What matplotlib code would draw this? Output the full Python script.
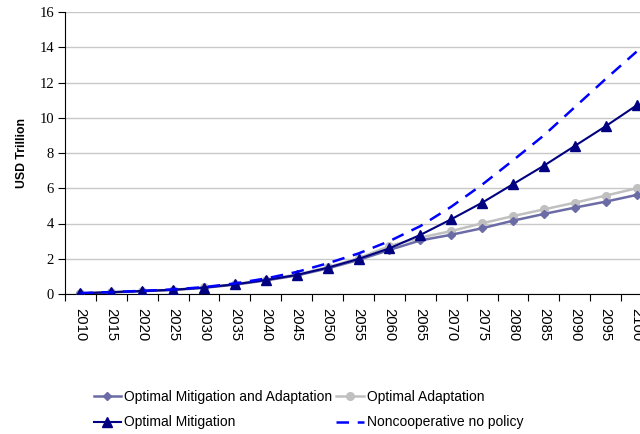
import matplotlib
matplotlib.use("Agg")
import matplotlib.pyplot as plt

years = [str(y) for y in range(2010, 2101, 5)]

opt_mit_adapt = [0.04, 0.10, 0.16, 0.23, 0.35, 0.53, 0.77, 1.05, 1.45, 1.93, 2.50, 3.04, 3.36, 3.73, 4.16, 4.54, 4.90, 5.24, 5.62]
opt_adapt     = [0.04, 0.10, 0.17, 0.24, 0.37, 0.56, 0.81, 1.10, 1.52, 2.03, 2.72, 3.20, 3.57, 4.01, 4.42, 4.80, 5.18, 5.58, 6.00]
opt_mit       = [0.04, 0.10, 0.17, 0.24, 0.36, 0.55, 0.79, 1.08, 1.49, 1.99, 2.59, 3.35, 4.24, 5.18, 6.23, 7.28, 8.40, 9.52, 10.70]
noncoop       = [0.05, 0.11, 0.18, 0.26, 0.39, 0.60, 0.88, 1.25, 1.74, 2.30, 3.00, 3.85, 4.95, 6.20, 7.58, 9.00, 10.60, 12.20, 13.75]

fig = plt.figure(figsize=(6.4, 4.34), dpi=100)
ax = fig.add_axes([65/640, 140/434, 587/640, 282/434])

x = list(range(len(years)))
h1, = ax.plot(x, opt_mit_adapt, color='#6B6BA6', lw=1.8, marker='D', ms=4, label='Optimal Mitigation and Adaptation', zorder=3)
h2, = ax.plot(x, opt_adapt, color='#C0C0C0', lw=1.8, marker='o', ms=5.5, label='Optimal Adaptation', zorder=2)
h3, = ax.plot(x, opt_mit, color='#000080', lw=1.5, marker='^', ms=6.5, label='Optimal Mitigation', zorder=4)
h4, = ax.plot(x, noncoop, color='#0000FF', lw=1.8, ls=(0, (5, 3.5)), label='Noncooperative no policy', zorder=5)

ax.set_xlim(-0.5, len(years) - 0.5)
ax.set_ylim(0, 16)
ax.set_yticks(range(0, 17, 2))
ax.set_yticklabels([str(v) for v in range(0, 17, 2)], fontfamily='Liberation Serif', fontsize=10.5)
ax.yaxis.grid(True, color='#C8C8C8', lw=1)
ax.set_axisbelow(True)

ax.set_xticks([i - 0.5 for i in range(len(years) + 1)], minor=False)
ax.set_xticklabels([])
ax.set_xticks(x, minor=True)
ax.set_xticklabels(years, minor=True, rotation=270, fontfamily='Liberation Sans', fontsize=10.7)
ax.tick_params(axis='x', which='minor', length=0, pad=10)
ax.tick_params(axis='x', which='major', length=5, direction='out')
ax.tick_params(axis='y', length=5, direction='out', pad=3)

for s in ['top', 'right']:
    ax.spines[s].set_visible(False)
ax.spines['left'].set_color('black')
ax.spines['bottom'].set_color('black')

ax.set_ylabel('USD Trillion', fontfamily='Liberation Sans', fontweight='bold', fontsize=8.8, labelpad=8)

fig.legend(handles=[h1, h3, h2, h4], loc='upper left', bbox_to_anchor=(88/640, 1 - 384/434), ncol=2, frameon=False,
           prop={'family': 'Liberation Sans', 'size': 10}, handlelength=2.0, columnspacing=0.3,
           handletextpad=0.2, labelspacing=0.85, borderaxespad=0)

fig.savefig('out.png', dpi=100)
